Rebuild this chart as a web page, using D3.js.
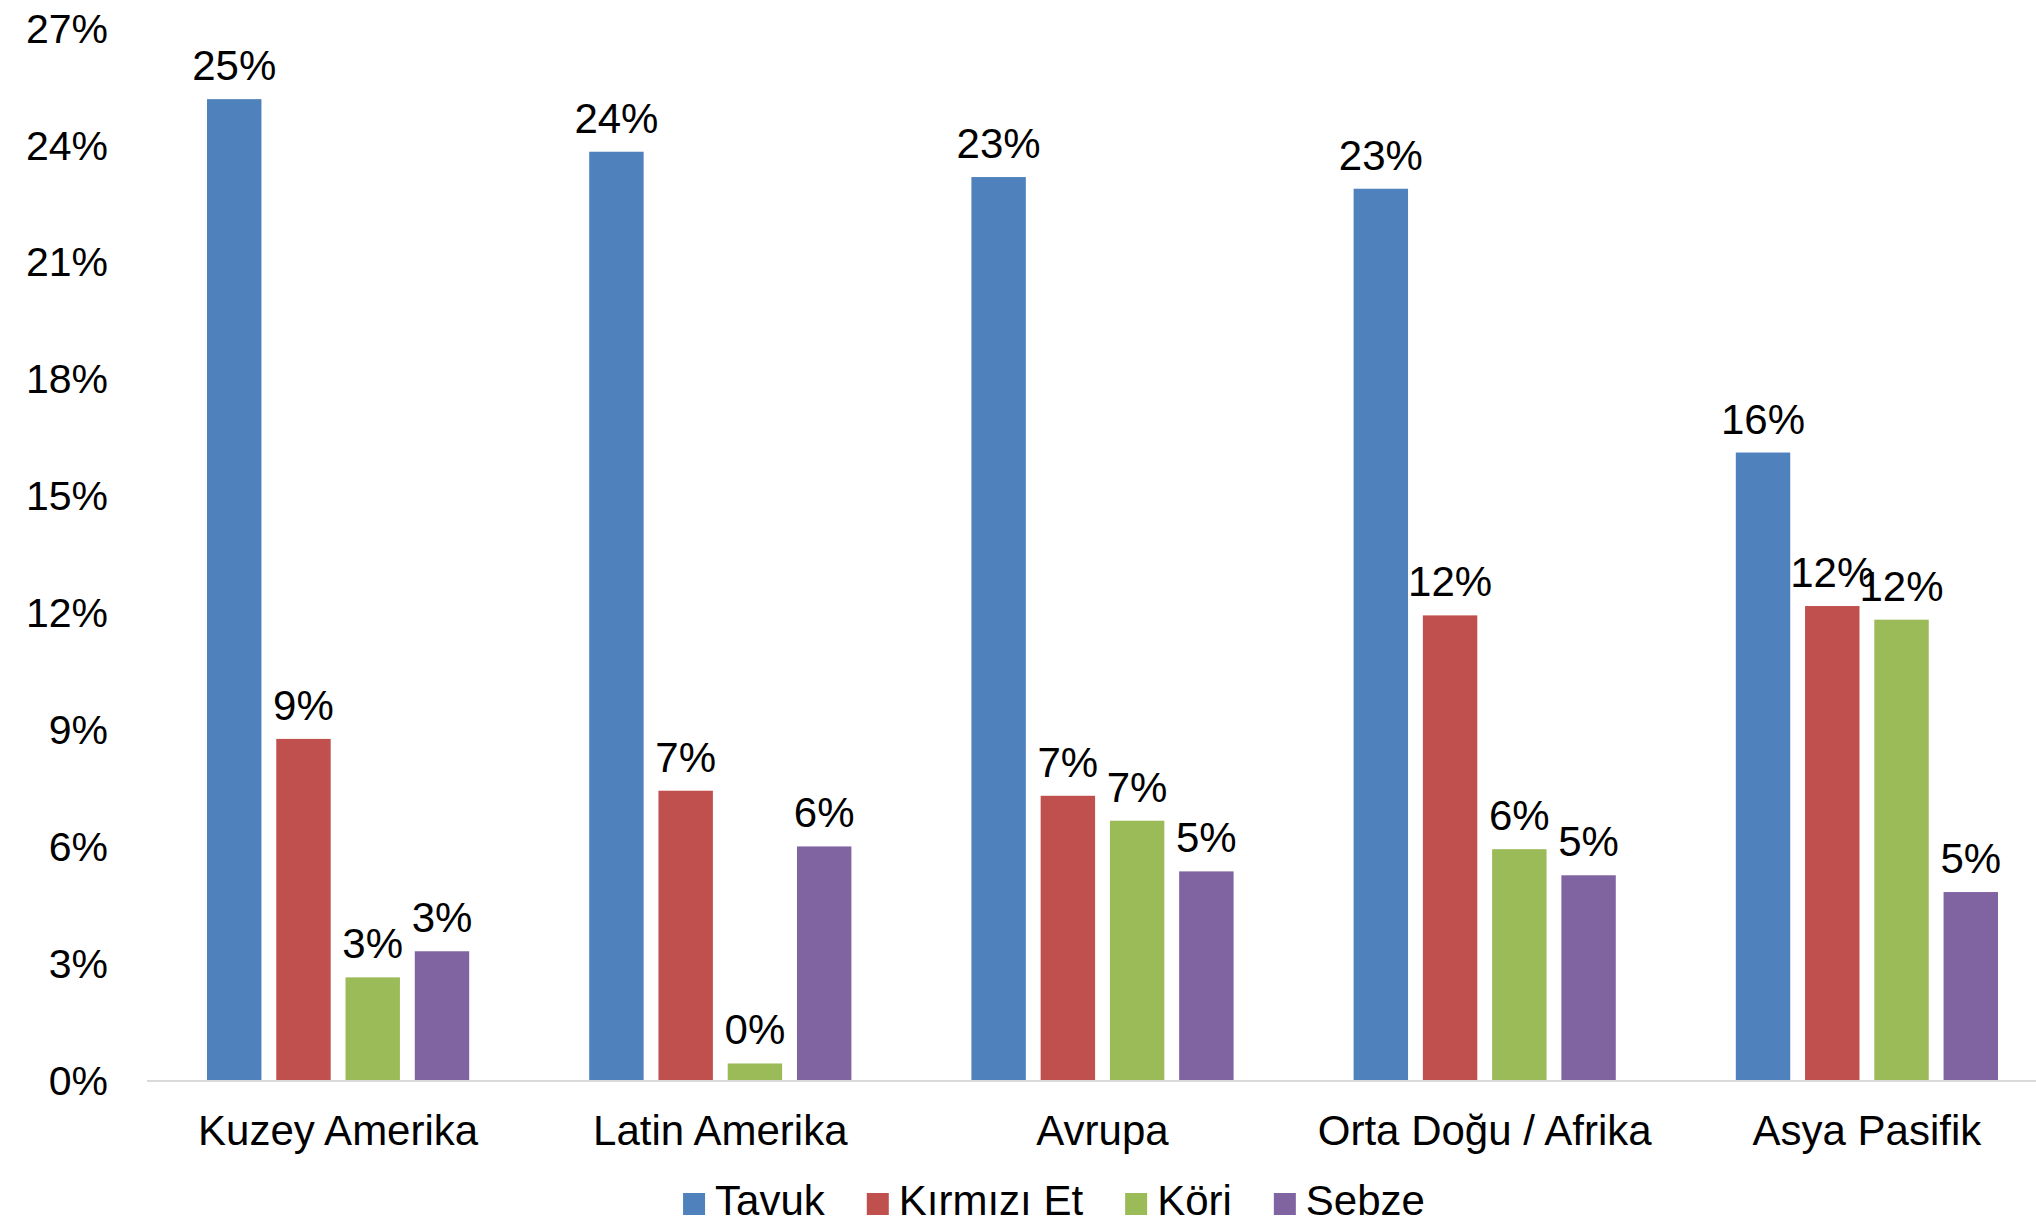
<!DOCTYPE html>
<html>
<head>
<meta charset="utf-8">
<script src="https://cdn.jsdelivr.net/npm/d3@7"></script>
<style>
  body { margin: 0; background: #fff; }
  svg { display: block; font-family: "Liberation Sans", Arial, sans-serif; }
</style>
</head>
<body>
<svg id="chart"></svg>
<script>
// data (percent)
const categories = ["Kuzey Amerika", "Latin Amerika", "Avrupa", "Orta Doğu / Afrika", "Asya Pasifik"];
const series = ["Tavuk", "Kırmızı Et", "Köri", "Sebze"];
const tavuk = [25.2, 23.85, 23.2, 22.9, 16.13];
const kirmiziEt = [8.78, 7.45, 7.32, 11.95, 12.19];
const kori = [2.66, 0.45, 6.68, 5.95, 11.84];
const sebze = [3.33, 6.02, 5.38, 5.28, 4.85];
const yTicks = [0, 3, 6, 9, 12, 15, 18, 21, 24, 27];
const colors = ["#4F81BD", "#C0504D", "#9BBB59", "#8064A2"];

const values = [tavuk, kirmiziEt, kori, sebze];

const width = 2036, height = 1224;
const left = 147, right = 2058;   // plot runs a bit past the right edge, like the source
const baseY = 1081, topY = 29;

const svg = d3.select("#chart")
  .attr("width", width)
  .attr("height", height);

svg.append("rect").attr("width", width).attr("height", height).attr("fill", "#fff");

const x0 = d3.scaleBand()
  .domain(categories)
  .range([left, right])
  .paddingInner(0.314)
  .paddingOuter(0.157);

const x1 = d3.scaleBand()
  .domain(series)
  .range([0, x0.bandwidth()])
  .paddingInner(0.214)
  .paddingOuter(0);

const y = d3.scaleLinear().domain([0, 27]).range([baseY, topY]);

const color = d3.scaleOrdinal().domain(series).range(colors);

// y axis labels only
const yAxis = svg.append("g")
  .attr("transform", `translate(${left},0)`)
  .call(d3.axisLeft(y).tickValues(yTicks).tickSize(0).tickPadding(39).tickFormat(d => d + "%"));
yAxis.select(".domain").remove();
yAxis.selectAll("text")
  .attr("font-size", 41)
  .attr("font-family", "Liberation Sans, Arial, sans-serif")
  .attr("fill", "#000");

// bars
const rows = [];
categories.forEach((c, i) => {
  series.forEach((s, j) => rows.push({ cat: c, ser: s, v: values[j][i] }));
});

const groups = svg.append("g");
groups.selectAll("rect")
  .data(rows)
  .join("rect")
  .attr("x", d => x0(d.cat) + x1(d.ser))
  .attr("y", d => y(d.v))
  .attr("width", x1.bandwidth())
  .attr("height", d => baseY - y(d.v))
  .attr("fill", d => color(d.ser));

// data labels (the two 12% in Asya Pasifik touch, same as the source)
groups.selectAll("text")
  .data(rows)
  .join("text")
  .attr("x", d => x0(d.cat) + x1(d.ser) + x1.bandwidth() / 2)
  .attr("y", d => y(d.v) - 19)
  .attr("text-anchor", "middle")
  .attr("font-size", 42)
  .attr("fill", "#000")
  .text(d => Math.round(d.v) + "%");

// x axis
svg.append("line")
  .attr("x1", left).attr("x2", right)
  .attr("y1", baseY).attr("y2", baseY)
  .attr("stroke", "#d9d9d9")
  .attr("stroke-width", 2);

const xAxis = svg.append("g")
  .attr("transform", `translate(0,${baseY})`)
  .call(d3.axisBottom(x0).tickSize(0).tickPadding(34));
xAxis.select(".domain").remove();
xAxis.selectAll("text")
  .attr("font-size", 42)
  .attr("font-family", "Liberation Sans, Arial, sans-serif")
  .attr("fill", "#000");

// legend
const legend = svg.append("g");
const items = legend.selectAll("g")
  .data(series)
  .join("g");
items.append("rect")
  .attr("width", 22).attr("height", 22)
  .attr("y", 1193)
  .attr("fill", d => color(d));
items.append("text")
  .attr("x", 32)
  .attr("y", 1215)
  .attr("font-size", 42)
  .attr("fill", "#000")
  .text(d => d);

let pos = 0;
const offsets = [];
items.each(function () {
  offsets.push(pos);
  const w = d3.select(this).select("text").node().getComputedTextLength();
  pos += 32 + w + 42;
});
const total = pos - 42;
const startX = 1054 - total / 2;
items.attr("transform", (d, i) => `translate(${startX + offsets[i]},0)`);
</script>
</body>
</html>
